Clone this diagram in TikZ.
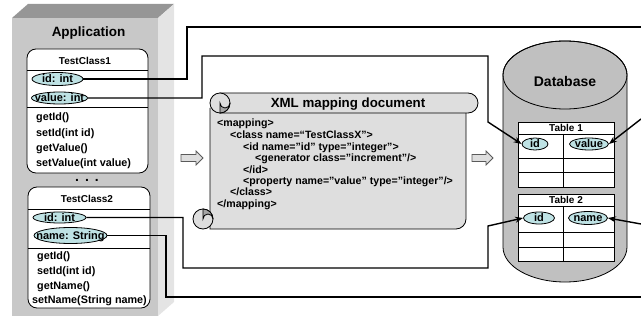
\documentclass[tikz,border=0pt]{standalone}
\usepackage{fontspec}
\setmainfont{Liberation Sans}
\usetikzlibrary{arrows.meta,shapes.geometric}
\definecolor{frontgray}{RGB}{200,200,200}
\definecolor{topgray}{RGB}{150,150,150}
\definecolor{sidegray}{RGB}{228,228,228}
\definecolor{attrfill}{RGB}{190,226,228}
\definecolor{dbgray}{RGB}{192,192,192}
\definecolor{scrollgray}{RGB}{222,222,222}
\definecolor{curlgray}{RGB}{165,165,165}
\definecolor{arrowline}{RGB}{90,90,90}
\newcommand{\ctr}[1]{\makebox[0pt]{\raisebox{-0.36em}[0pt][0pt]{#1}}}
\begin{document}
\begin{tikzpicture}[x=1pt,y=-1pt,
  attr/.style={ellipse,draw,fill=attrfill,inner sep=0pt,line width=0.8pt,font=\fontsize{11}{13}\selectfont\bfseries},
  conn/.style={line width=1.4pt,line join=miter},
  tip/.style={-{Stealth[length=8pt,width=6pt]}},
  lbl/.style={inner sep=0pt,font=\fontsize{10.8}{13}\selectfont\bfseries},
  code/.style={inner sep=0pt,anchor=base west,font=\fontsize{10.6}{12}\selectfont\bfseries},
  thin/.style={line width=0.8pt},
  scroll/.style={fill=scrollgray,draw,line width=0.8pt},
  barrow/.style={fill=scrollgray,draw=arrowline,line width=0.8pt,line join=miter},
]
\useasboundingbox (0,0) rectangle (641,321);
% Application box
\fill[topgray] (12,18) -- (28,4) -- (174,4) -- (158,18) -- cycle;
\fill[sidegray] (158,18) -- (174,4) -- (174,302) -- (158,316) -- cycle;
\fill[frontgray] (12,18) rectangle (158,316);
\node[inner sep=0pt,font=\fontsize{13.5}{15}\selectfont\bfseries] (app) at (88.5,33) {Application};
% TestClass1
\draw[thin,fill=white,rounded corners=9pt] (27,49) rectangle (148,173);
\draw[thin] (27,70) -- (148,70);
\draw[thin] (27,107) -- (148,107);
\node[inner sep=0pt,font=\fontsize{10}{12}\selectfont\bfseries] (tc1) at (85,61) {TestClass1};
\node[attr,minimum width=51pt,minimum height=13pt] (c1id) at (57.5,79) {\ctr{id: int}};
\node[attr,minimum width=56pt,minimum height=12pt] (c1val) at (59.5,98) {\ctr{value: int}};
\node[lbl,anchor=west] (m11) at (36,118) {getId()};
\node[lbl,anchor=west] (m12) at (36,134) {setId(int id)};
\node[lbl,anchor=west] (m13) at (36,149) {getValue()};
\node[lbl,anchor=west] (m14) at (36,164) {setValue(int value)};
\node[inner sep=0pt,font=\fontsize{14}{16}\selectfont\bfseries] (dots) at (87,180) {.\hspace{6pt}.\hspace{6pt}.};
% TestClass2
\draw[thin,fill=white,rounded corners=9pt] (28,187) rectangle (150,308);
\draw[thin] (28,209) -- (150,209);
\draw[thin] (28,248) -- (150,248);
\node[inner sep=0pt,font=\fontsize{10}{12}\selectfont\bfseries] (tc2) at (87,199) {TestClass2};
\node[attr,minimum width=53pt,minimum height=11pt] (c2id) at (59.5,217.5) {\ctr{id: int}};
\node[attr,minimum width=73pt,minimum height=16pt] (c2name) at (70.5,235.5) {\ctr{name: String}};
\node[lbl,anchor=west] (m21) at (37,257) {getId()};
\node[lbl,anchor=west] (m22) at (37,272) {setId(int id)};
\node[lbl,anchor=west] (m23) at (37,287) {getName()};
\node[lbl,anchor=west] (m24) at (32,301) {setName(String name)};
% XML scroll
\draw[scroll] (210,108) -- (210,229) -- (456,229) arc[start angle=270,end angle=360,radius=10pt] -- (466,108);
\draw[scroll] (220,93) -- (468,93) arc[start angle=90,end angle=-90,radius=10pt] -- (220,113) -- cycle;
\draw[scroll] (220,103) circle[radius=10pt];
\draw[thin,fill=curlgray] (220,103) arc[start angle=180,end angle=360,radius=5pt] arc[start angle=0,end angle=-90,radius=10pt] -- cycle;
\draw[scroll] (203,219) circle[radius=10pt];
\draw[thin,fill=curlgray] (203,219) arc[start angle=180,end angle=0,radius=5pt] arc[start angle=0,end angle=90,radius=10pt] -- cycle;
\node[inner sep=0pt,font=\fontsize{13.3}{15}\selectfont\bfseries] (xmlt) at (348,104) {XML mapping document};
\node[code] (x1) at (217,127) {<mapping>};
\node[code] (x2) at (230,138.5) {<class name=“TestClassX">};
\node[code] (x3) at (243,150) {<id name="id" type="integer">};
\node[code] (x4) at (255,161.5) {<generator class="increment"/>};
\node[code] (x5) at (243,173) {</id>};
\node[code] (x6) at (243,184.5) {<property name="value" type="integer"/>};
\node[code] (x7) at (230,196) {</class>};
\node[code] (x8) at (217,207.5) {</mapping>};
% block arrows
\draw[barrow] (181,154.5) -- (196,154.5) -- (196,151) -- (203,158) -- (196,165) -- (196,161.5) -- (181,161.5) -- cycle;
\draw[barrow] (472,154.5) -- (486,154.5) -- (486,151) -- (493,158) -- (486,165) -- (486,161.5) -- (472,161.5) -- cycle;
% Database cylinder
\draw[thin,fill=dbgray] (503,75) -- (503,247) arc[start angle=180,end angle=360,x radius=62pt,y radius=35pt] -- (627,75) arc[start angle=0,end angle=180,x radius=62pt,y radius=34pt] -- cycle;
\draw[thin] (565,75) ellipse[x radius=62pt,y radius=34pt];
\node[inner sep=0pt,font=\fontsize{14}{16}\selectfont\bfseries] (db) at (565,81) {Database};
% Table 1
\draw[thin,fill=white] (518,122) rectangle (614,187);
\draw[thin] (518,134) -- (614,134) (518,158) -- (614,158) (518,172) -- (614,172) (563,134) -- (563,187);
\node[inner sep=0pt,font=\fontsize{10}{12}\selectfont\bfseries] (tab1) at (566,128) {Table 1};
\node[attr,minimum width=26pt,minimum height=12pt] (t1id) at (535,144) {\ctr{id}};
\node[attr,minimum width=39pt,minimum height=12pt] (t1val) at (589,144) {\ctr{value}};
% Table 2
\draw[thin,fill=white] (518,194) rectangle (614,261);
\draw[thin] (518,206) -- (614,206) (518,232) -- (614,232) (518,247) -- (614,247) (563,206) -- (563,261);
\node[inner sep=0pt,font=\fontsize{10}{12}\selectfont\bfseries] (tab2) at (566,200) {Table 2};
\node[attr,minimum width=31pt,minimum height=12pt] (t2id) at (539,218) {\ctr{id}};
\node[attr,minimum width=39pt,minimum height=13pt] (t2name) at (588,218) {\ctr{name}};
% free ends at the right edge
\coordinate (eA) at (641,27);
\coordinate (eB) at (641,119);
\coordinate (eD) at (641,297);
\coordinate (eE) at (641,224);
% connectors
\draw[conn] (c1id.east) -| (187,27) -- (eA);
\draw[conn,tip] (c1val.east) -| (202,56) -| (488,122) -- (t1id.west);
\draw[conn,tip] (eB) -- (t1val.east);
\draw[conn,tip] (c2id.east) -| (183,268) -| (488,226) -- (t2id.west);
\draw[conn] (c2name.east) -| (166,297) -- (eD);
\draw[conn,tip] (eE) -- (t2name.east);
\end{tikzpicture}
\end{document}
